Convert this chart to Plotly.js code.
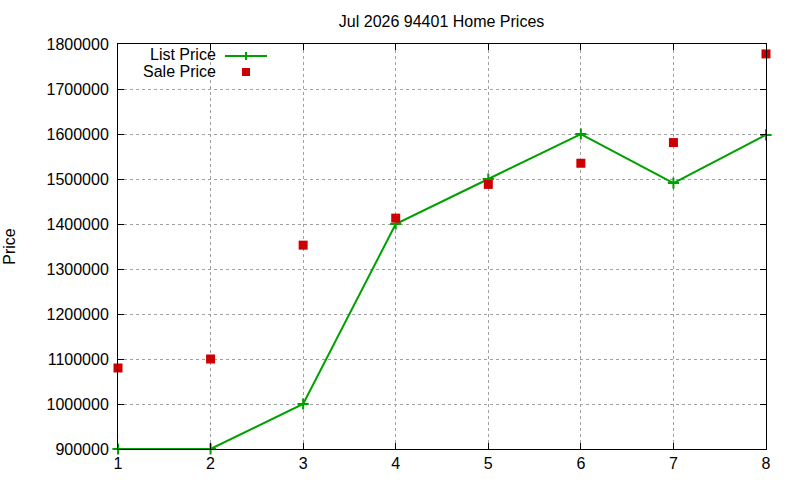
<!DOCTYPE html>
<html><head><meta charset="utf-8">
<script src="https://cdn.plot.ly/plotly-3.0.1.min.js"></script>
<style>html,body{margin:0;padding:0;background:#fff}#chart{width:800px;height:480px}</style>
</head><body><div id="chart"></div>
<script>
const months = [1, 2, 3, 4, 5, 6, 7, 8];
const listPrice = [900000, 900000, 1000000, 1400000, 1500000, 1600000, 1491000, 1598000];
const salePrice = [1080000, 1100000, 1353000, 1413000, 1488000, 1535000, 1581000, 1778000];
const yTicks = [900000, 1000000, 1100000, 1200000, 1300000, 1400000, 1500000, 1600000, 1700000, 1800000];

const font = {family: 'Liberation Sans, Arial, sans-serif', size: 16, color: '#000'};
const green = '#00a000', red = '#cc0000';

const traces = [
  {x: months, y: listPrice, type: 'scatter', mode: 'lines+markers', name: 'List Price',
   line: {color: green, width: 2}, marker: {symbol: 'cross-thin', size: 8, line: {color: green, width: 2}, color: green},
   cliponaxis: false, showlegend: false},
  {x: months, y: salePrice, type: 'scatter', mode: 'markers', name: 'Sale Price',
   marker: {symbol: 'square', size: 9, color: red}, cliponaxis: false, showlegend: false}
];

const axisCommon = {showline: true, linecolor: '#000', linewidth: 1, mirror: 'ticks', ticks: 'inside',
  ticklen: 6, tickcolor: '#000', showgrid: true, gridcolor: '#a0a0a0', griddash: 'dot', gridwidth: 1,
  zeroline: false, tickfont: font};

const layout = {
  width: 800, height: 480,
  margin: {l: 118, r: 34, t: 44, b: 31},
  paper_bgcolor: '#fff', plot_bgcolor: '#fff',
  font: font,
  title: {text: 'Jul 2026 94401 Home Prices', font: {family: font.family, size: 16, color: '#000'}, x: 0.552, xanchor: 'center', y: 0.956, yanchor: 'middle'},
  xaxis: Object.assign({}, axisCommon, {range: [1, 8], tickvals: months, ticktext: months.map(String), ticklabelstandoff: 0}),
  yaxis: Object.assign({}, axisCommon, {range: [900000, 1800000], tickvals: yTicks, ticktext: yTicks.map(String), ticklabelstandoff: 5,
    title: {text: 'Price', font: font, standoff: 26}}),
  annotations: [
    {xref: 'paper', yref: 'paper', x: (218 - 118) / 648, y: (449 - 55) / 405, text: 'List Price', showarrow: false, xanchor: 'right', yanchor: 'middle', font: font},
    {xref: 'paper', yref: 'paper', x: (218 - 118) / 648, y: (449 - 71) / 405, text: 'Sale Price', showarrow: false, xanchor: 'right', yanchor: 'middle', font: font}
  ],
  shapes: [
    {type: 'line', xref: 'paper', yref: 'paper', x0: (225 - 118) / 648, x1: (267 - 118) / 648, y0: (449 - 56) / 405, y1: (449 - 56) / 405, line: {color: green, width: 2}},
    {type: 'line', xref: 'paper', yref: 'paper', x0: (246 - 118) / 648, x1: (246 - 118) / 648, y0: (449 - 52) / 405, y1: (449 - 60) / 405, line: {color: green, width: 2}},
    {type: 'rect', xref: 'paper', yref: 'paper', x0: (242 - 118) / 648, x1: (250 - 118) / 648, y0: (449 - 68) / 405, y1: (449 - 76) / 405, fillcolor: red, line: {width: 0}}
  ]
};

Plotly.newPlot('chart', traces, layout, {staticPlot: true, displayModeBar: false});
</script></body></html>
